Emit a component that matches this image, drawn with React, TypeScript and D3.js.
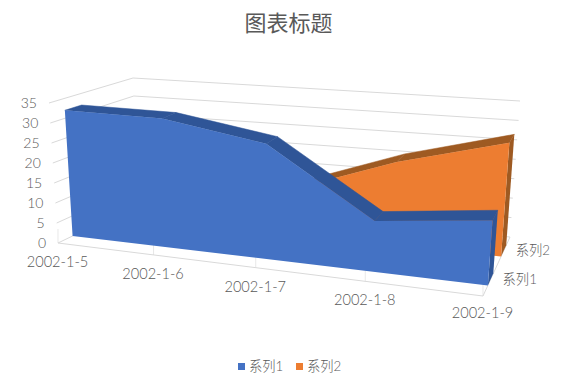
import React from "react";
import * as d3 from "d3";

const categories = ["2002-1-5", "2002-1-6", "2002-1-7", "2002-1-8", "2002-1-9"];
const series1 = [32, 32, 28, 12, 15];
const series2 = [12, 12, 12, 21, 28];
const seriesNames = ["系列1", "系列2"];
const valueTicks = [0, 5, 10, 15, 20, 25, 30, 35];

const FONT = "Lato, 'Noto Sans CJK SC', sans-serif";
const TEXT = "#595959";
const GRID = "#d9d9d9";

type P = [number, number];
// screen positions of the eight corners of the plot box: [depth][value][category]
const box: P[][][] = [
  [[[58, 243], [483, 296]], [[49, 103], [494, 141]]],
  [[[139, 204], [510, 237]], [[133, 78], [520, 101]]],
];

const tScale = d3.scaleLinear().domain([0, categories.length - 1]).range([0, 1]);
const vScale = d3.scaleLinear().domain([0, 35]).range([0, 1]);
const persp = 0.87;
const warp = (u: number) => (u * persp) / (1 + u * (persp - 1));
const mix = (a: P, b: P, k: number): P => [a[0] + (b[0] - a[0]) * k, a[1] + (b[1] - a[1]) * k];

function project(i: number, v: number, d: number): P {
  const u = warp(tScale(i));
  const w = vScale(v);
  const at = (dd: number) =>
    mix(mix(box[dd][0][0], box[dd][0][1], u), mix(box[dd][1][0], box[dd][1][1], u), w);
  return mix(at(0), at(1), d);
}

const closed = d3.line<P>().curve(d3.curveLinearClosed);
const open = d3.line<P>();

const layers = [
  { values: series2, front: 0.67, back: 0.86, fill: "#ED7D31", dark: "#9E5A22" },
  { values: series1, front: 0.18, back: 0.38, fill: "#4472C4", dark: "#2F5597" },
];

function Area3D({ values, front, back, fill, dark }: (typeof layers)[number]) {
  const n = values.length - 1;
  const frontPoly: P[] = [
    project(0, 0, front),
    ...values.map((v, i) => project(i, v, front)),
    project(n, 0, front),
  ];
  return (
    <g>
      {values.slice(1).map((v, i) => (
        <path
          key={i}
          d={closed([
            project(i, values[i], front),
            project(i + 1, v, front),
            project(i + 1, v, back),
            project(i, values[i], back),
          ])!}
          fill={dark}
          stroke={dark}
          strokeWidth={0.5}
        />
      ))}
      <path
        d={closed([
          project(n, 0, front),
          project(n, values[n], front),
          project(n, values[n], back),
          project(n, 0, back),
        ])!}
        fill={dark}
      />
      <path d={closed(frontPoly)!} fill={fill} />
    </g>
  );
}

export default function App() {
  return (
    <svg
      width={576}
      height={384}
      viewBox="0 0 576 384"
      style={{ position: "absolute", left: 0, top: 0, background: "#fff" }}
      fontFamily={FONT}
      fill={TEXT}
    >
      <text x={288.5} y={31} textAnchor="middle" fontSize={22}>图表标题</text>

      {valueTicks.map((t) => {
        const a = project(0, t, 0);
        const b = project(0, t, 1);
        const c = project(4, t, 1);
        return (
          <g key={t}>
            <path d={open([a, b, c])!} fill="none" stroke={GRID} strokeWidth={1} />
            <text x={a[0] - 12} y={a[1] + 5} textAnchor="end" fontSize={14} fontWeight={300}>{t}</text>
          </g>
        );
      })}

      <path d={open([project(0, 0, 0), project(4, 0, 0), project(4, 0, 1)])!} fill="none" stroke={GRID} />
      {categories.map((c, i) => {
        const p = project(i, 0, 0);
        return (
          <g key={c}>
            <path d={open([p, [p[0], p[1] - 14]])!} stroke={GRID} strokeWidth={0.6} fill="none" />
            <text x={p[0] - 0.5} y={p[1] + (i === 4 ? 22 : 24)} textAnchor="middle" fontSize={14.6} fontWeight={300}>{c}</text>
          </g>
        );
      })}

      {layers.map((l, i) => (
        <Area3D key={i} {...l} />
      ))}

      {seriesNames.map((s, i) => {
        const p = project(4, 0, i === 0 ? 0.28 : 0.77);
        return (
          <text key={s} x={p[0] + 12} y={p[1] + 4.5} fontSize={13.3} fontWeight={300}>{s}</text>
        );
      })}

      {seriesNames.map((s, i) => (
        <g key={s} transform={`translate(${238 + i * 58},363)`}>
          <rect width={7} height={7} fill={layers[1 - i].fill} />
          <text x={11} y={8} fontSize={13.3} fontWeight={300}>{s}</text>
        </g>
      ))}
    </svg>
  );
}
